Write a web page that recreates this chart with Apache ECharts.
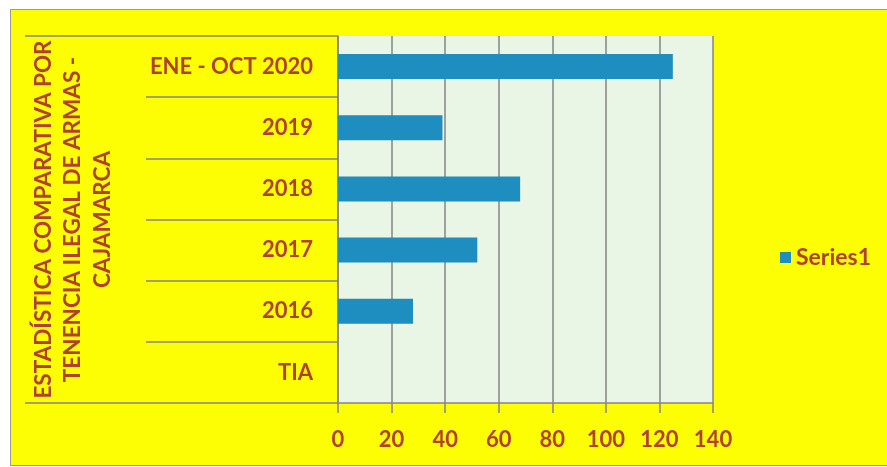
<!DOCTYPE html>
<html>
<head>
<meta charset="utf-8">
<script src="https://cdn.jsdelivr.net/npm/echarts@6/dist/echarts.min.js"></script>
<style>
  html, body { margin: 0; padding: 0; background: #fff; }
  #chart {
    position: absolute;
    left: 10px;
    top: 9px;
    width: 880px;
    height: 455px;
    border-left: 1.5px solid #9a9a9a;
    border-top: 1.5px solid #9a9a9a;
    border-bottom: 1.5px solid #9a9a9a;
  }
</style>
</head>
<body>
<div id="chart"></div>
<script>
// datos
var categories = ["ENE - OCT 2020", "2019", "2018", "2017", "2016", "TIA"];
var series1 = [125, 39, 68, 52, 28, 0];
var xTicks = [0, 20, 40, 60, 80, 100, 120, 140];
var axisTitle = "ESTADÍSTICA COMPARATIVA POR\nTENENCIA ILEGAL DE ARMAS -\nCAJAMARCA";

var textColor = "#b0412b";
var lineColor = "#858585";
var font = "Lato";

var chart = echarts.init(document.getElementById("chart"));
chart.setOption({
  backgroundColor: "#fdfd04",
  animation: false,
  textStyle: { fontFamily: font },
  legend: {
    data: ["Series1"],
    left: 764,
    top: 231,
    icon: "rect",
    itemWidth: 11,
    itemHeight: 11,
    itemGap: 6,
    textStyle: { color: textColor, fontSize: 23, fontWeight: "bold", fontFamily: font },
  },
  grid: {
    left: 327,
    top: 26,
    width: 375,
    height: 367,
    show: true,
    backgroundColor: "#eaf6e5",
    borderWidth: 0,
  },
  xAxis: {
    type: "value",
    min: xTicks[0],
    max: xTicks[xTicks.length - 1],
    interval: 20,
    axisLine: { show: true, lineStyle: { color: lineColor, width: 1.5 } },
    axisTick: { show: true, length: 10, lineStyle: { color: lineColor, width: 1.5 } },
    axisLabel: {
      color: textColor,
      fontSize: 22,
      fontWeight: "bold",
      fontFamily: font,
      margin: 26,
    },
    splitLine: { show: true, lineStyle: { color: lineColor, width: 1.5 } },
  },
  yAxis: [
    {
      type: "category",
      data: categories,
      inverse: true,
      name: axisTitle,
      nameLocation: "middle",
      nameRotate: 90,
      nameGap: 221,
      nameTextStyle: {
        color: textColor,
        fontSize: 22.5,
        fontWeight: "bold",
        fontFamily: font,
        lineHeight: 29.5,
        align: "center",
      },
      axisLine: { show: true, lineStyle: { color: lineColor, width: 1.5 } },
      axisTick: { show: true, length: 192, lineStyle: { color: lineColor, width: 1.5 } },
      axisLabel: {
        color: textColor,
        fontSize: 22,
        fontWeight: "bold",
        fontFamily: font,
        margin: 25,
      },
      splitLine: { show: false },
    },
    {
      // solo para las lineas superior e inferior del cuadro de etiquetas
      type: "value",
      min: 0,
      max: 1,
      interval: 1,
      position: "left",
      axisLine: { show: false },
      axisTick: { show: true, length: 313, lineStyle: { color: lineColor, width: 1.5 } },
      axisLabel: { show: false },
      splitLine: { show: false },
    },
  ],
  series: [
    {
      name: "Series1",
      type: "bar",
      data: series1,
      barWidth: 25,
      itemStyle: { color: "#1e8dbf" },
    },
  ],
});
</script>
</body>
</html>
